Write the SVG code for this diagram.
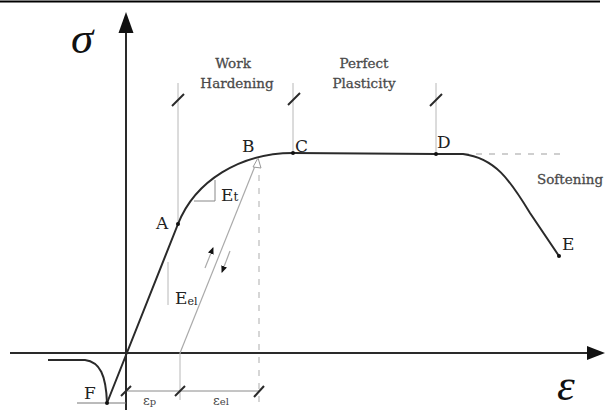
<svg xmlns="http://www.w3.org/2000/svg" width="605" height="410" viewBox="0 0 605 410">
<defs>
<style>
.axis{stroke:#2a2a2a;stroke-width:2;fill:none}
.curve{stroke:#2a2a2a;stroke-width:2;fill:none}
.thin{stroke:#b8b8b8;stroke-width:1;fill:none}
.mid{stroke:#8a8a8a;stroke-width:1;fill:none}
.dash{stroke:#c0c0c0;stroke-width:1.3;fill:none;stroke-dasharray:6 7}
.tick{stroke:#2a2a2a;stroke-width:2}
.lbl{font-family:"DejaVu Serif",serif;font-size:17px;fill:#222}
.reg{font-family:"DejaVu Serif",serif;font-size:13.5px;fill:#4a4a4a;text-anchor:middle;stroke:#4a4a4a;stroke-width:0.3}
.big{font-family:"Liberation Serif",serif;font-style:italic;font-size:45px;fill:#111}
.sm{font-family:"DejaVu Serif",serif;font-size:13px;fill:#444}
.dot{fill:#111}
</style>
<marker id="ah" markerWidth="8" markerHeight="8" refX="6" refY="3" orient="auto" markerUnits="userSpaceOnUse">
<path d="M0,0 L7,3 L0,6 Z" fill="#111"/>
</marker>
</defs>
<line x1="0" y1="1.5" x2="600" y2="1.5" stroke="#000" stroke-width="2"/>
<g id="axes">
<line class="axis" x1="126" y1="30" x2="126" y2="410"/>
<path d="M126,12 L118.5,33 L133.5,33 Z" fill="#111"/>
<line class="axis" x1="10" y1="353" x2="590" y2="353"/>
<path d="M605,353 L587,346 L587,360 Z" fill="#111"/>
<text class="big" x="71" y="53">σ</text>
<text class="big" x="557" y="400">ε</text>
</g>
<g id="guides">
<line class="thin" x1="178" y1="83" x2="178" y2="222"/>
<line class="thin" x1="293" y1="83" x2="293" y2="152"/>
<line class="thin" x1="436" y1="83" x2="436" y2="153"/>
<line class="thin" x1="168" y1="262" x2="168" y2="305"/>
<line class="thin" x1="180" y1="353" x2="180" y2="400"/>
<line class="dash" x1="259" y1="162" x2="259" y2="405"/>
<line class="dash" x1="463" y1="154" x2="565" y2="154"/>
<line class="tick" x1="172" y1="106" x2="184" y2="94"/>
<line class="tick" x1="288" y1="105" x2="300" y2="93"/>
<line class="tick" x1="430" y1="106" x2="442" y2="94"/>
<line class="mid" x1="126" y1="391" x2="259" y2="391"/>
<line class="tick" x1="121" y1="396" x2="131" y2="386" stroke-width="1.6"/>
<line class="tick" x1="175" y1="396" x2="185" y2="386" stroke-width="1.6"/>
<line class="tick" x1="254" y1="397" x2="264" y2="386" stroke-width="1.6"/>
<line x1="77" y1="403" x2="126" y2="403" stroke="#777" stroke-width="1"/>
</g>
<g id="connectors">
<path class="curve" d="M107,403 L178,224 C195,181 240,153 293,153 L436,154 L463,154 C495,158 510,180 530,213 L559,256"/>
<path class="curve" d="M48,360 L85,360 C100,362 106,375 107,403" stroke-width="1.6"/>
<line x1="180" y1="353" x2="255" y2="166" stroke="#aaa" stroke-width="1.2"/>
<path d="M258,158 L253,167 L261,168 Z" fill="#fff" stroke="#999" stroke-width="1"/>
<line x1="205" y1="268" x2="213" y2="248" stroke="#aaa" stroke-width="1.2" marker-end="url(#ah)"/>
<line x1="230" y1="251" x2="222" y2="272" stroke="#aaa" stroke-width="1.2" marker-end="url(#ah)"/>
<path d="M194,201 L215,201 L215,180" stroke="#888" stroke-width="1" fill="none"/>
</g>
<g id="pointA"><circle class="dot" cx="178" cy="224" r="2"/><text class="lbl" x="156" y="229">A</text></g>
<g id="pointB"><text class="lbl" x="242" y="152">B</text></g>
<g id="pointC"><circle class="dot" cx="293" cy="153" r="2"/><text class="lbl" x="295" y="152">C</text></g>
<g id="pointD"><circle class="dot" cx="436" cy="154" r="2"/><text class="lbl" x="437" y="148">D</text></g>
<g id="pointE"><circle class="dot" cx="559" cy="256" r="2"/><text class="lbl" x="562" y="250">E</text></g>
<g id="pointF"><circle class="dot" cx="107" cy="403" r="2"/><text class="lbl" x="84" y="399">F</text></g>
<g id="labels">
<text class="reg" x="233" y="68">Work</text>
<text class="reg" x="237" y="88">Hardening</text>
<text class="reg" x="364" y="68">Perfect</text>
<text class="reg" x="364" y="88">Plasticity</text>
<text class="reg" x="570" y="184">Softening</text>
<text class="lbl" x="221" y="201" font-size="16">E<tspan font-size="12">t</tspan></text>
<text class="lbl" x="175" y="304" font-size="16">E<tspan font-size="11" dy="1">el</tspan></text>
<text class="sm" x="143" y="405">ε<tspan font-size="10">p</tspan></text>
<text class="sm" x="213" y="405">ε<tspan font-size="10">el</tspan></text>
</g>
</svg>
